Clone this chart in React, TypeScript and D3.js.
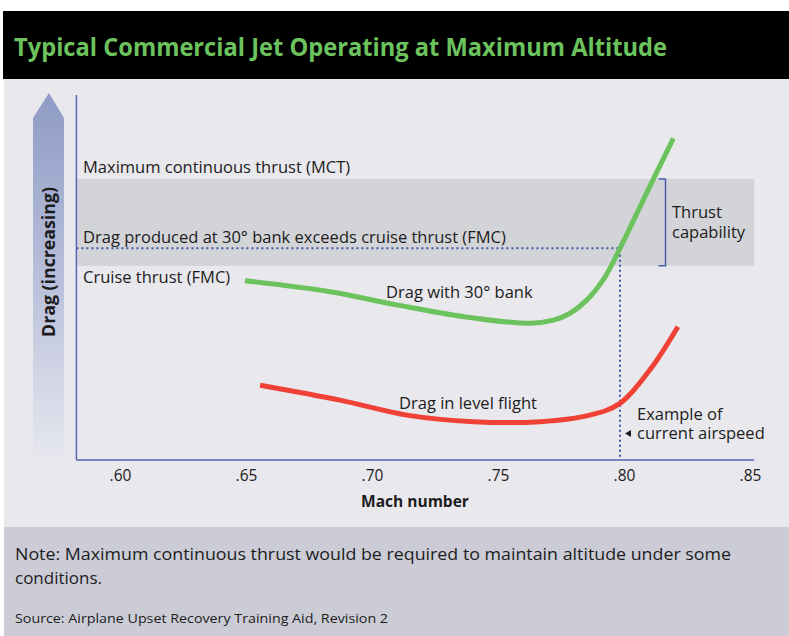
import { useEffect } from 'react';
import * as d3 from 'd3';

// Mach number / relative drag (0-100)
const bankMach = [0.6494, 0.6831, 0.7096, 0.7359, 0.7625, 0.7718, 0.7784, 0.785, 0.7923, 0.7982, 0.8114, 0.8194];
const bankDrag = [49.1, 46.1, 42.5, 39.3, 37.45, 38.3, 40.2, 43.8, 50.2, 58.0, 76.9, 88.1];
const levelMach = [0.6554, 0.6871, 0.7136, 0.7399, 0.7665, 0.7863, 0.7982, 0.8101, 0.8212];
const levelDrag = [20.5, 16.4, 12.3, 10.5, 10.5, 12.3, 15.5, 24.7, 36.5];
const machTicks = [0.6, 0.65, 0.7, 0.75, 0.8, 0.85];
const axisMach = [0.5825, 0.8515];
const mctDrag = 77;
const cruiseDrag = 53.2;
const bankAtCurrent = 58;
const currentMach = 0.7982;

type Pt = { m: number; d: number };
const bank: Pt[] = bankMach.map((m, i) => ({ m, d: bankDrag[i] }));
const level: Pt[] = levelMach.map((m, i) => ({ m, d: levelDrag[i] }));

const W = 789;
const H = 636;
const font = '"Open Sans", "Noto Sans", sans-serif';

const App = () => {
    useEffect(() => {
        document.body.style.margin = '0';
    }, []);

    const x = d3.scaleLinear().domain([0.6, 0.85]).range([120.5, 750.5]);
    const y = d3.scaleLinear().domain([0, 100]).range([460, 95]);

    const line = d3.line<Pt>()
        .x(d => x(d.m))
        .y(d => y(d.d))
        .curve(d3.curveCatmullRom.alpha(0.5));

    const x0 = x(axisMach[0]);
    const x1 = x(axisMach[1]);
    const yTop = y(mctDrag);
    const yBot = y(cruiseDrag);
    const yDot = y(bankAtCurrent);
    const xCur = x(currentMach);
    const txt = '#1c1c1c';

    return (
        <svg width={W} height={H} style={{ position: 'absolute', left: 0, top: 0, display: 'block' }} fontFamily={font}>
            <defs>
                <linearGradient id="arrowGrad" x1="0" y1="0" x2="0" y2="1">
                    <stop offset="0" stopColor="#8e9bc5" />
                    <stop offset="0.45" stopColor="#b3bbd8" />
                    <stop offset="1" stopColor="#e6e7ee" />
                </linearGradient>
            </defs>
            <rect x={0} y={0} width={W} height={H} fill="#ffffff" />
            <rect x={3} y={11} width={W - 3} height={68} fill="#000000" />
            <text x={14} y={56} fontSize={25} fontWeight="bold" fill="#6cc35e" textLength={653} lengthAdjust="spacingAndGlyphs">
                Typical Commercial Jet Operating at Maximum Altitude
            </text>
            <rect x={4} y={79} width={W - 4} height={448} fill="#e8e8ed" />
            <rect x={4} y={527} width={W - 4} height={H - 527} fill="#cbccd6" />

            {/* drag arrow */}
            <path d="M33,118 L49,93 L64,118 L64,458 L33,458 Z" fill="url(#arrowGrad)" />
            <text transform="translate(54.5,262) rotate(-90)" textAnchor="middle" fontSize={17} fontWeight="bold" fill={txt}
                textLength={150} lengthAdjust="spacingAndGlyphs">
                Drag (increasing)
            </text>

            {/* thrust band */}
            <rect x={x0} y={yTop} width={x1 - x0} height={yBot - yTop} fill="#d3d4d8" />

            {/* axes */}
            <line x1={x0} x2={x0} y1={95} y2={y(0)} stroke="#5669b3" strokeWidth={1.5} />
            <line x1={x0} x2={x1} y1={y(0)} y2={y(0)} stroke="#5669b3" strokeWidth={1.5} />
            {machTicks.map(t => (
                <text key={t} x={x(t)} y={481} textAnchor="middle" fontSize={15.5} fill={txt}>
                    {d3.format('.2f')(t).replace(/^0/, '')}
                </text>
            ))}
            <text x={415} y={507} textAnchor="middle" fontSize={15.5} fontWeight="bold" fill={txt}>Mach number</text>

            {/* dotted guides */}
            <path d={`M${x0},${yDot} L${xCur},${yDot} L${xCur},${y(0)}`} fill="none" stroke="#3e55a6" strokeWidth={2} strokeDasharray="2,3" />

            {/* bracket */}
            <path d={`M658.5,${yTop} L665.5,${yTop} L665.5,${yBot} L658.5,${yBot}`} fill="none" stroke="#4a5ea8" strokeWidth={1.5} />

            {/* curves */}
            <path d={line(level) ?? ''} fill="none" stroke="#ef4136" strokeWidth={5} strokeLinecap="butt" />
            <path d={line(bank) ?? ''} fill="none" stroke="#6cc35e" strokeWidth={5} strokeLinecap="butt" />

            {/* labels */}
            <g fontSize={16.5} fill={txt}>
                <text x={83} y={173}>Maximum continuous thrust (MCT)</text>
                <text x={83} y={243}>Drag produced at 30° bank exceeds cruise thrust (FMC)</text>
                <text x={83} y={283}>Cruise thrust (FMC)</text>
                <text x={386} y={298}>Drag with 30° bank</text>
                <text x={399} y={409}>Drag in level flight</text>
                <text x={672} y={218}>Thrust</text>
                <text x={672} y={238}>capability</text>
                <text x={637} y={420}>Example of</text>
                <text x={637} y={439}>current airspeed</text>
            </g>
            <path d="M625,433.5 L631,430 L631,437 Z" fill={txt} />

            {/* footer */}
            <text x={15} y={560} fontSize={17} fill={txt} textLength={716} lengthAdjust="spacingAndGlyphs">
                Note: Maximum continuous thrust would be required to maintain altitude under some
            </text>
            <text x={15} y={584} fontSize={17} fill={txt}>conditions.</text>
            <text x={15} y={623} fontSize={13} fill={txt} textLength={373} lengthAdjust="spacingAndGlyphs">
                Source: Airplane Upset Recovery Training Aid, Revision 2
            </text>
        </svg>
    );
};

export default App;
